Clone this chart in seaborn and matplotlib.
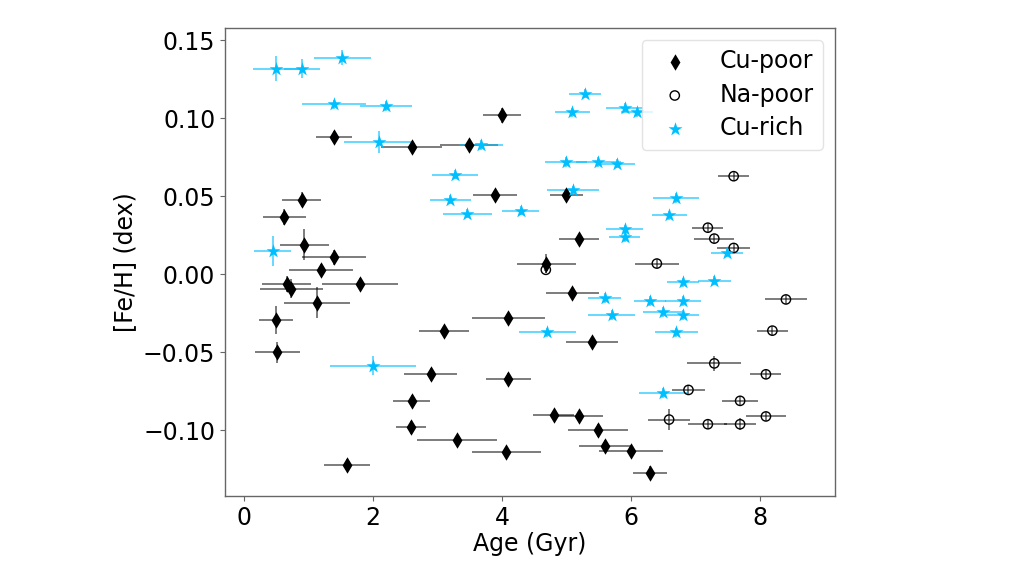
import numpy as np
import pandas as pd
import matplotlib
matplotlib.use("Agg")
import matplotlib.pyplot as plt
import seaborn as sns

# Cu-poor
cupoor_age = [1.40, 2.60, 3.49, 4.00, 0.90, 0.63, 0.94, 1.40, 3.89, 5.00, 5.20, 4.69,
              1.20, 0.67, 0.74, 1.80, 1.14, 0.50, 0.52, 4.10, 3.10, 2.90, 4.10, 2.60,
              2.59, 3.31, 4.07, 1.60, 5.09, 5.40, 4.80, 5.19, 5.49, 5.60, 6.00, 6.29]
cupoor_feh = [0.088, 0.082, 0.083, 0.102, 0.048, 0.037, 0.019, 0.011, 0.051, 0.051, 0.023, 0.007,
              0.003, -0.006, -0.009, -0.006, -0.018, -0.029, -0.050, -0.028, -0.036, -0.064, -0.067, -0.081,
              -0.098, -0.106, -0.114, -0.122, -0.012, -0.043, -0.090, -0.091, -0.100, -0.110, -0.113, -0.127]
cupoor_xerr = [0.28, 0.47, 0.45, 0.30, 0.30, 0.33, 0.38, 0.50, 0.34, 0.25, 0.31, 0.45,
               0.50, 0.38, 0.49, 0.59, 0.51, 0.26, 0.35, 0.57, 0.39, 0.41, 0.35, 0.29,
               0.23, 0.62, 0.53, 0.36, 0.41, 0.40, 0.32, 0.37, 0.46, 0.40, 0.49, 0.26]
cupoor_yerr = [0.004, 0.003, 0.003, 0.005, 0.005, 0.005, 0.010, 0.005, 0.003, 0.003, 0.003, 0.006,
               0.004, 0.005, 0.006, 0.004, 0.010, 0.009, 0.007, 0.003, 0.003, 0.004, 0.004, 0.004,
               0.004, 0.003, 0.003, 0.004, 0.003, 0.003, 0.003, 0.003, 0.004, 0.004, 0.003, 0.004]

# Na-poor
napoor_age = [7.59, 7.19, 7.29, 7.59, 6.40, 4.68, 8.40, 8.19, 7.29, 8.09, 6.89, 7.69, 8.09, 6.59, 7.19, 7.69]
napoor_feh = [0.063, 0.030, 0.023, 0.017, 0.007, 0.003, -0.016, -0.036, -0.057, -0.064, -0.074, -0.081,
              -0.091, -0.093, -0.096, -0.096]
napoor_xerr = [0.24, 0.24, 0.31, 0.26, 0.34, 0.03, 0.33, 0.24, 0.42, 0.24, 0.25, 0.28, 0.31, 0.33, 0.30, 0.25]
napoor_yerr = [0.003, 0.003, 0.003, 0.003, 0.003, 0.002, 0.003, 0.003, 0.005, 0.003, 0.003, 0.003,
               0.003, 0.007, 0.003, 0.004]

# Cu-rich
curich_age = [0.50, 0.90, 1.53, 1.40, 2.20, 2.09, 3.68, 3.27, 3.20, 3.46, 4.29, 0.45, 2.00,
              5.29, 5.09, 5.90, 6.09, 4.99, 5.49, 5.79, 5.10, 6.70, 6.59, 5.90, 5.90, 7.49,
              6.80, 7.29, 5.59, 6.29, 6.80, 5.70, 6.49, 6.80, 4.70, 6.70, 6.49]
curich_feh = [0.132, 0.132, 0.139, 0.109, 0.108, 0.085, 0.083, 0.064, 0.048, 0.039, 0.041, 0.015, -0.0585,
              0.116, 0.104, 0.107, 0.104, 0.072, 0.072, 0.071, 0.054, 0.049, 0.038, 0.029, 0.024, 0.014,
              -0.005, -0.004, -0.015, -0.017, -0.017, -0.026, -0.024, -0.026, -0.037, -0.037, -0.076]
curich_xerr = [0.35, 0.28, 0.44, 0.49, 0.40, 0.53, 0.34, 0.36, 0.32, 0.38, 0.29, 0.29, 0.67,
               0.25, 0.27, 0.29, 0.25, 0.33, 0.35, 0.27, 0.40, 0.36, 0.27, 0.28, 0.24, 0.25,
               0.25, 0.26, 0.25, 0.25, 0.28, 0.36, 0.30, 0.25, 0.44, 0.33, 0.37]
curich_yerr = [0.008, 0.006, 0.005, 0.003, 0.003, 0.007, 0.003, 0.003, 0.003, 0.003, 0.003, 0.0098, 0.006,
               0.003, 0.003, 0.003, 0.003, 0.003, 0.003, 0.003, 0.003, 0.003, 0.003, 0.003, 0.003, 0.003,
               0.003, 0.003, 0.003, 0.003, 0.003, 0.003, 0.003, 0.003, 0.003, 0.003, 0.003]

sns.set_style("white")
plt.rcParams['font.family'] = ['DejaVu Sans']
plt.rcParams['text.color'] = 'black'
plt.rcParams['axes.labelcolor'] = 'black'
plt.rcParams['xtick.color'] = 'black'
plt.rcParams['ytick.color'] = 'black'

fig = plt.figure(figsize=(10.24, 5.74), dpi=100)
ax = fig.add_axes([225/1024, 78/574, 610/1024, 468/574])

blue = '#00BFFF'

ax.errorbar(cupoor_age, cupoor_feh, xerr=cupoor_xerr, yerr=cupoor_yerr, fmt='none',
            ecolor='k', alpha=0.6, elinewidth=1.2, zorder=1)
ax.errorbar(napoor_age, napoor_feh, xerr=napoor_xerr, yerr=napoor_yerr, fmt='none',
            ecolor='k', alpha=0.6, elinewidth=1.2, zorder=1)
ax.errorbar(curich_age, curich_feh, xerr=curich_xerr, yerr=curich_yerr, fmt='none',
            ecolor=blue, alpha=0.7, elinewidth=1.2, zorder=1)

df_poor = pd.DataFrame({'age': cupoor_age, 'feh': cupoor_feh})
df_na = pd.DataFrame({'age': napoor_age, 'feh': napoor_feh})
df_rich = pd.DataFrame({'age': curich_age, 'feh': curich_feh})

sns.scatterplot(data=df_poor, x='age', y='feh', marker='d', s=70, color='k',
                edgecolor='k', linewidth=0, label='Cu-poor', ax=ax, zorder=3)
sns.scatterplot(data=df_na, x='age', y='feh', marker='o', s=45, facecolor='none',
                edgecolor='k', linewidth=1.0, label='Na-poor', ax=ax, zorder=3)
sns.scatterplot(data=df_rich, x='age', y='feh', marker='*', s=110, color=blue,
                edgecolor=blue, linewidth=0, label='Cu-rich', ax=ax, zorder=3)

ax.set_xlim(-0.29, 9.16)
ax.set_ylim(-0.142, 0.158)
ax.set_xticks([0, 2, 4, 6, 8])
ax.set_yticks([-0.10, -0.05, 0.00, 0.05, 0.10, 0.15])
ax.set_yticklabels(['−0.10', '−0.05', '0.00', '0.05', '0.10', '0.15'])
ax.set_xlabel('Age (Gyr)', fontsize=17, labelpad=2, color='black')
ax.set_ylabel('[Fe/H] (dex)', fontsize=17, color='black')
ax.tick_params(axis='both', labelsize=17, length=3.5, width=0.8, color='#666666',
               labelcolor='black', bottom=True, left=True)
for sp in ax.spines.values():
    sp.set_color('#666666')
    sp.set_linewidth(1.0)

leg = ax.legend(loc='upper right', fontsize=17, frameon=True, handletextpad=0.9,
                borderpad=0.4, labelspacing=0.4)
leg.get_frame().set_edgecolor('#dddddd')
for t in leg.get_texts():
    t.set_color('black')

fig.savefig('out.png', dpi=100)
